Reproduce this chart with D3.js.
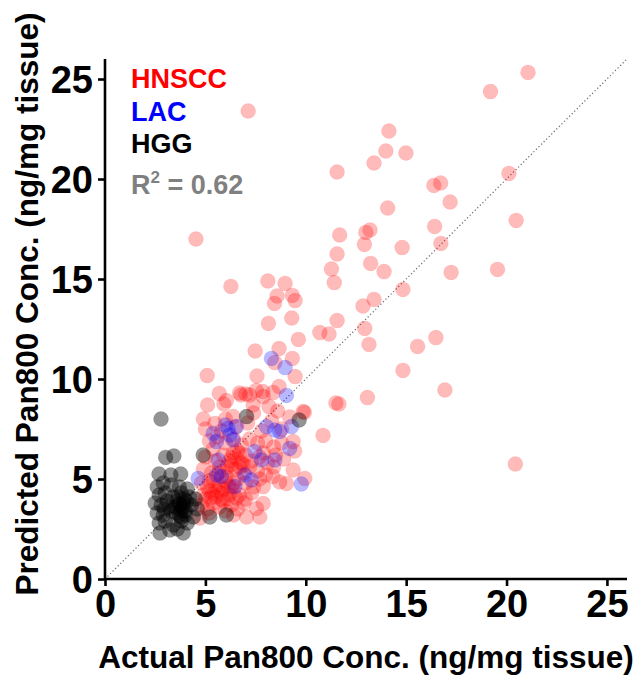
<!DOCTYPE html>
<html>
<head>
<meta charset="utf-8">
<script src="https://cdn.jsdelivr.net/npm/d3@7"></script>
<style>
  body { margin: 0; background: #fff; }
  svg { display: block; }
  .tick-label { font-family: "Liberation Sans Narrow", "Liberation Sans", Arial, sans-serif; font-weight: bold; }
  .title { font-family: "Liberation Sans", Arial, sans-serif; font-weight: bold; }
</style>
</head>
<body>
<div id="chart"></div>
<script>
// HNSCC samples: [actual, predicted]
const hnsccPoints = [
  [21.07,25.33],[19.2,24.37],[14.14,22.4],[13.99,21.4],[14.99,21.3],[13.4,20.8],[11.56,20.35],
  [16.38,19.68],[16.72,19.8],[20.12,20.28],[17.19,18.85],[14.08,18.55],[20.48,17.93],[16.42,17.63],
  [16.73,16.78],[11.69,17.2],[12.99,17.33],[13.2,17.45],[12.92,16.73],[14.8,16.57],[11.56,16.25],
  [13.23,15.78],[13.9,15.37],[11.28,15.5],[11.42,14.82],[17.24,15.33],[19.55,15.48],[14.84,14.48],
  [13.4,13.98],[12.85,13.65],[11.56,12.92],[10.7,12.32],[11.16,12.25],[12.94,12.53],[13.15,11.73],
  [16.48,12.07],[15.57,11.63],[14.84,10.43],[16.93,9.45],[11.5,8.8],[11.65,8.75],[13.07,9.07],
  [9.93,8.33],[10.86,7.18],[20.44,5.75],[7.13,23.4],[4.53,17.0],
  [6.27,14.63],[8.11,14.9],[8.97,14.78],[8.57,14.15],[9.33,14.18],[8.44,13.78],[9.47,13.92],
  [9.3,13.05],[8.14,12.78],[9.63,11.98],[7.48,11.4],[8.67,11.52],[9.33,11.03],[8.46,10.82],
  [5.09,10.17],[7.57,10.15],[9.47,10.12],[8.67,9.62],[5.69,9.28],[6.7,9.3],[7.53,9.42],[7.86,9.37],
  [7.2,9.2],[8.37,9.32],
  [5.11,8.7],[6.05,8.92],[5.92,8.75],[6.77,9.2],[7.01,9.25],[7.88,9.12],[8.17,8.62],[7.38,8.7],
  [6.38,8.12],[5.47,7.78],[9.87,8.37],[9.37,6.87],[9.45,6.4],[8.37,5.12],[9.04,4.78],[9.37,5.45],
  [9.95,5.03],[7.88,4.62],[8.7,4.85],[7.05,3.1],[7.71,3.1],[4.73,3.05],[7.55,3.53],[7.88,3.78],
  [5.2,6.9],[5.6,7.1],[6.0,6.8],[6.4,7.0],[6.8,6.7],[7.2,7.0],[7.6,6.8],[8.0,6.9],[8.4,6.6],[8.8,6.8],
  [5.4,6.5],[6.6,6.4],[7.9,6.3],
  [5.0,6.1],[5.5,5.9],[5.9,6.2],[6.2,5.9],[6.4,6.3],[6.6,6.0],[6.8,5.8],[7.0,6.2],[7.3,5.9],[7.7,6.1],
  [8.1,5.8],[8.5,6.2],[8.9,6.0],[6.3,6.1],[6.7,6.3],[6.9,5.7],
  [4.9,5.5],[5.3,5.3],[5.7,5.6],[6.0,5.4],[6.3,5.7],[6.5,5.5],[6.9,5.3],[7.2,5.6],[7.6,5.4],[8.0,5.2],
  [8.4,5.6],[6.1,5.6],[6.7,5.6],
  [4.8,4.8],[5.1,4.6],[5.4,5.0],[5.7,4.7],[6.0,4.9],[6.3,4.6],[6.6,5.0],[7.0,4.8],[7.4,4.6],[7.7,5.0],
  [5.2,4.9],[5.9,4.5],[6.4,4.8],
  [4.9,4.2],[5.2,4.4],[5.5,4.1],[5.8,4.3],[6.1,4.0],[6.4,4.4],[6.7,4.2],[7.0,4.0],[7.3,4.3],[5.0,4.0],
  [5.6,4.4],[6.2,4.2],[5.35,4.25],[6.55,4.05],
  [4.8,3.7],[5.1,3.5],[5.4,3.8],[5.7,3.6],[6.0,3.4],[6.3,3.7],[6.6,3.5],[6.9,3.8],[5.9,3.9],[5.2,3.3],[6.4,3.2],
  [5.0,7.5],[5.8,7.4],[6.5,7.6],[7.1,7.8],[7.8,7.4],[8.3,7.9],[8.8,7.5],[9.2,8.1],[6.0,8.0],[7.4,8.3],
  [8.6,8.4],[4.9,8.0],
  [5.5,4.6],[5.8,4.0],[6.15,4.65],[5.25,4.05],[6.05,5.1],[5.65,5.3]
];

// LAC samples
const lacPoints = [
  [8.29,11.03],[8.97,10.57],[9.04,9.18],[9.29,7.62],[8.04,7.62],[8.46,7.45],[8.71,7.37],[6.13,7.53],
  [6.55,7.62],[6.22,7.2],[5.56,6.87],[7.46,6.37],[7.8,5.95],[8.46,5.95],[9.2,6.53],[5.64,5.95],
  [4.64,5.03],[5.56,5.2],[5.8,5.12],[6.97,5.2],[7.3,4.95],[9.78,4.75],[6.47,4.62],[5.39,7.28],
  [6.38,6.95],[6.0,7.7]
];

// HGG samples
const hggPoints = [
  [2.79,8.0],[3.02,6.08],[3.43,6.15],[2.69,5.25],[3.28,5.2],[3.77,5.25],[4.89,6.2],[7.05,8.12],[9.67,7.95],
  [2.6,4.6],[2.9,4.8],[3.3,4.7],[3.7,4.6],[4.1,4.5],[2.7,4.2],[3.0,4.3],[3.4,4.1],[3.8,4.3],[4.2,4.1],
  [2.5,3.8],[2.8,3.7],[3.1,3.9],[3.5,3.6],[3.9,3.8],[4.3,3.7],[2.6,3.3],[2.9,3.2],[3.3,3.4],[3.7,3.2],
  [4.0,3.4],[4.4,3.1],[2.7,2.8],[3.0,2.9],[3.4,2.7],[3.8,2.9],[4.1,2.8],[2.74,2.3],[3.23,2.45],[3.9,2.3],
  [3.6,3.9],[3.85,3.55],[3.95,4.0],[3.7,3.75],[4.0,3.2],[4.6,3.5],[4.5,4.0],[5.22,3.1],[6.05,3.2],
  [3.6,2.5],[3.2,3.6],[2.95,3.5],
  [3.75,3.4],[3.9,3.65],[3.65,4.1],[4.05,3.9],[3.8,3.1],[3.55,3.3]
];

const tickValues = [0, 5, 10, 15, 20, 25];
const legendLabels = ["HNSCC", "LAC", "HGG"];
const rSquared = 0.62;

const width = 641, height = 682;
const margin = { top: 59, right: 14, bottom: 103, left: 105 };

const svg = d3.select("#chart").append("svg")
  .attr("width", width)
  .attr("height", height);

const x = d3.scaleLinear().domain([0, 26]).range([margin.left, 627]);
const y = d3.scaleLinear().domain([0, 26]).range([579, margin.top]);

// identity line
svg.append("line")
  .attr("x1", x(0)).attr("y1", y(0))
  .attr("x2", x(26)).attr("y2", y(26))
  .attr("stroke", "#666")
  .attr("stroke-width", 1.2)
  .attr("stroke-dasharray", "1.2,2.4");

// points
const groups = [
  { pts: hnsccPoints, color: "#ff0000", op: 0.27 },
  { pts: lacPoints, color: "#0000ff", op: 0.28 },
  { pts: hggPoints, color: "#000000", op: 0.42 }
];
groups.forEach(g => {
  svg.append("g").selectAll("circle")
    .data(g.pts)
    .enter()
    .append("circle")
    .attr("cx", d => x(d[0]))
    .attr("cy", d => y(d[1]))
    .attr("r", 7.5)
    .attr("fill", g.color)
    .attr("fill-opacity", g.op)
    .attr("stroke", g.color)
    .attr("stroke-opacity", g.op * 0.25)
    .attr("stroke-width", 1);
});

// axes
const xAxis = d3.axisBottom(x).tickValues(tickValues).tickSize(7).tickPadding(4);
const gx = svg.append("g")
  .attr("transform", `translate(0,${y(0)})`)
  .call(xAxis);
const yAxis = d3.axisLeft(y).tickValues(tickValues).tickSize(7).tickPadding(5);
const gy = svg.append("g")
  .attr("transform", `translate(${x(0)},0)`)
  .call(yAxis);

[gx, gy].forEach(g => {
  g.select(".domain").attr("stroke", "#000").attr("stroke-width", 2.6);
  g.selectAll(".tick line").attr("stroke", "#000").attr("stroke-width", 2.6);
  g.selectAll(".tick text")
    .attr("class", "tick-label")
    .attr("fill", "#000")
    .style("font-size", "38px");
});
gx.select(".domain").attr("d", `M${x(0)},0H627`);
gy.select(".domain").attr("d", `M0,${y(0)}V${margin.top}`);
gy.selectAll(".tick text").attr("dy", "0.36em");

// axis titles
svg.append("text")
  .attr("class", "title")
  .attr("x", 366)
  .attr("y", 668)
  .attr("text-anchor", "middle")
  .style("font-size", "31.5px")
  .text("Actual Pan800 Conc. (ng/mg tissue)");

svg.append("text")
  .attr("class", "title")
  .attr("transform", "translate(38,304) rotate(-90)")
  .attr("text-anchor", "middle")
  .style("font-size", "31.5px")
  .text("Predicted Pan800 Conc. (ng/mg tissue)");

// legend
const legendColors = ["#ff0000", "#0000ff", "#000000"];
legendLabels.forEach((lab, i) => {
  svg.append("text")
    .attr("class", "title")
    .attr("x", 131)
    .attr("y", 88 + i * 32.5)
    .attr("fill", legendColors[i])
    .style("font-size", "27px")
    .text(lab);
});
const r2 = svg.append("text")
  .attr("class", "title")
  .attr("x", 131)
  .attr("y", 194)
  .attr("fill", "#808080")
  .style("font-size", "27px");
r2.append("tspan").text("R");
r2.append("tspan").attr("dy", -11).style("font-size", "17px").text("2");
r2.append("tspan").attr("dy", 11).text(` = ${rSquared.toFixed(2)}`);
</script>
</body>
</html>
